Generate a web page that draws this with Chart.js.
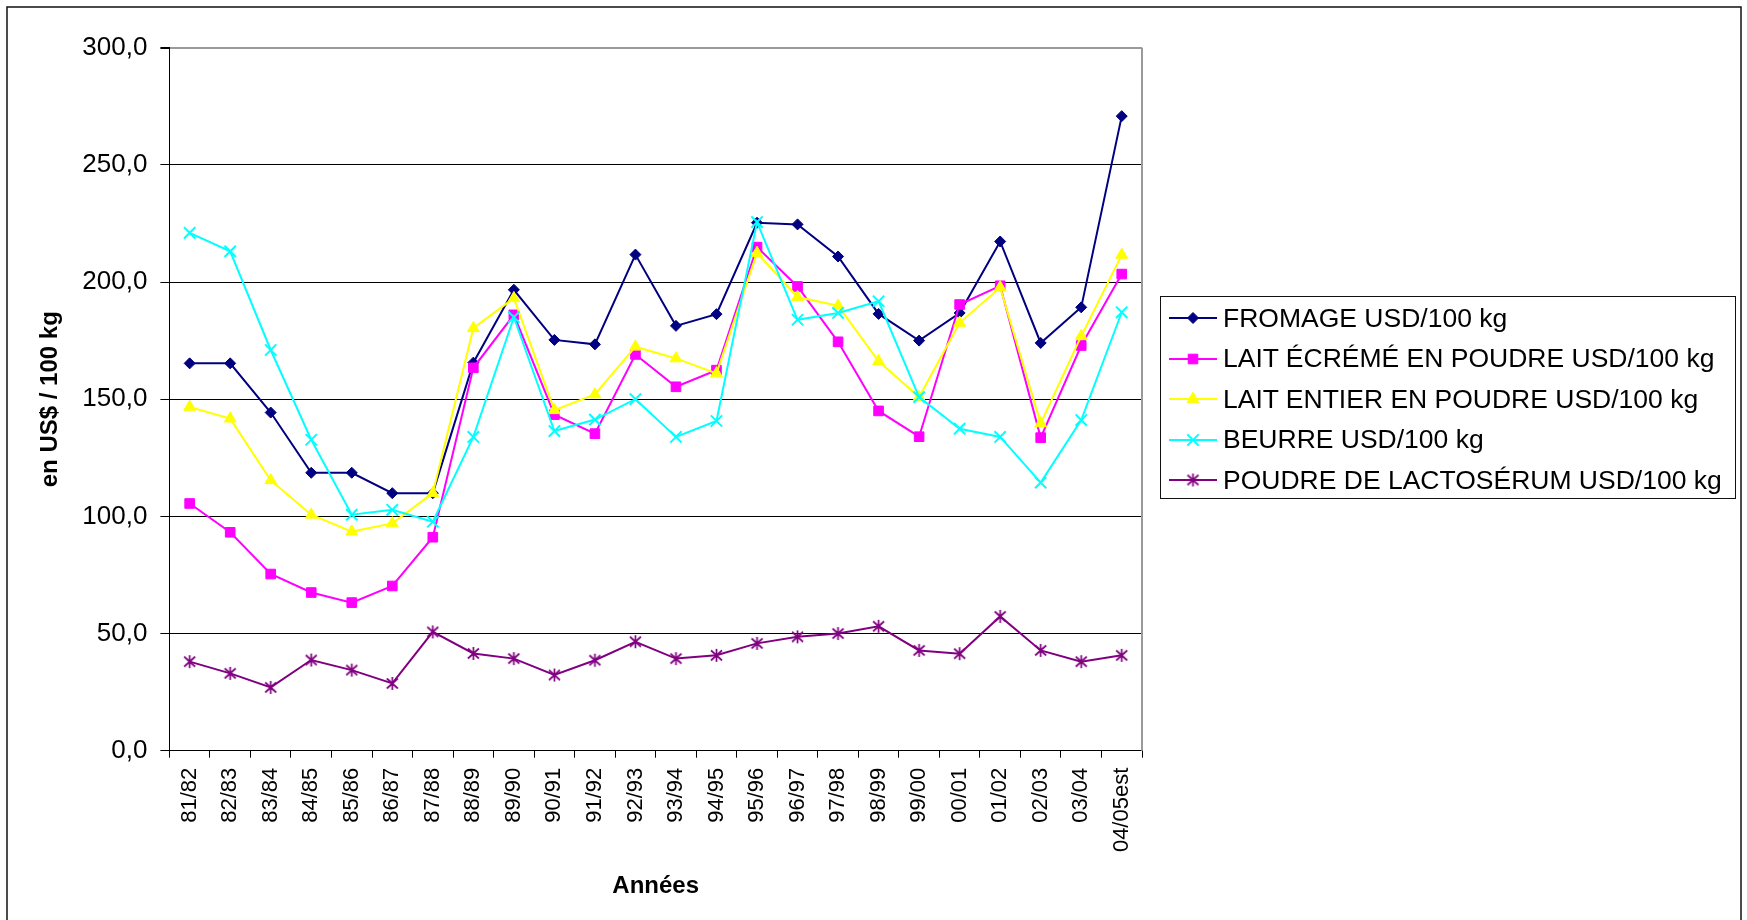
<!DOCTYPE html>
<html lang="fr">
<head>
<meta charset="utf-8">
<title>Prix des produits laitiers</title>
<script src="https://cdn.jsdelivr.net/npm/chart.js@4.4.1/dist/chart.umd.min.js"></script>
<style>
  html, body { margin:0; padding:0; background:#fff; }
  #wrap { position:relative; width:1747px; height:920px; overflow:hidden; }
  #legende { position:absolute; left:1160px; top:296px; width:576px; height:203px; box-sizing:border-box;
             border:1px solid #111; background:#fff; padding-top:1px;
             font-family:"Liberation Sans", Arial, Helvetica, sans-serif; font-size:26.5px; color:#000; }
  #legende .row { display:flex; align-items:center; height:40.5px; white-space:nowrap; }
  #legende canvas { margin-left:8px; margin-right:6px; flex:none; }
</style>
</head>
<body>
<div id="wrap">
  <canvas id="chartPrix" width="1747" height="920"></canvas>
  <div id="legende"></div>
</div>
<script>
// --- donnees ---
var annees = ['81/82','82/83','83/84','84/85','85/86','86/87','87/88','88/89','89/90','90/91','91/92','92/93',
              '93/94','94/95','95/96','96/97','97/98','98/99','99/00','00/01','01/02','02/03','03/04','04/05est'];

var fromage    = [165.3,165.3,144.3,118.6,118.6,109.9,109.9,165.6,196.7,175.3,173.4,211.7,
                  181.3,186.3,225.3,224.6,210.9,186.4,175.0,186.8,217.3,174.0,189.2,270.8];
var laitEcreme = [105.5, 93.2, 75.4, 67.5, 63.2, 70.3, 91.1,163.4,186.0,143.4,135.3,169.1,
                  155.3,162.4,214.9,198.1,174.5,145.0,134.0,190.4,198.4,133.6,172.9,203.4];
var laitEntier = [146.7,141.7,115.4,100.7, 93.5, 97.0,109.9,180.3,193.1,145.3,152.0,172.4,
                  167.4,161.0,212.4,193.6,189.9,166.2,150.9,182.6,197.7,139.7,176.9,211.6];
var beurre     = [221.0,213.1,171.0,132.7,100.7,102.8, 97.7,133.9,185.0,136.4,141.3,150.0,
                  133.9,140.7,225.6,183.9,186.8,191.8,150.9,137.4,133.9,114.4,141.1,187.1];
var lactoserum = [ 38.0, 33.0, 27.0, 38.7, 34.4, 28.7, 50.7, 41.5, 39.3, 32.3, 38.6, 46.5,
                   39.3, 40.7, 45.8, 48.6, 50.0, 53.1, 42.8, 41.4, 57.3, 42.8, 38.0, 40.7];

var series = ['FROMAGE USD/100 kg','LAIT ÉCRÉMÉ EN POUDRE USD/100 kg','LAIT ENTIER EN POUDRE USD/100 kg',
              'BEURRE USD/100 kg','POUDRE DE LACTOSÉRUM USD/100 kg'];
var yMin = 0, yMax = 300, yStep = 50;

// --- mise en page ---
var FONT = '"Liberation Sans", Arial, Helvetica, sans-serif';
var W = 1747, H = 920;
var PLOT_LEFT = 169.4, PLOT_TOP = 47.7, PLOT_RIGHT = 1142, PLOT_BOTTOM = 750.7;
var PAD = 10;

function makeStar(color){
  var c = document.createElement('canvas'); c.width = 15; c.height = 15;
  var g = c.getContext('2d');
  g.strokeStyle = color; g.lineWidth = 1.7;
  g.beginPath();
  g.moveTo(2,2.5); g.lineTo(13,12.5);
  g.moveTo(13,2.5); g.lineTo(2,12.5);
  g.moveTo(7.5,1); g.lineTo(7.5,14);
  g.stroke();
  return c;
}

function serie(i, data, color, style, radius, bw){
  return {
    label: series[i], data: data,
    borderColor: color, backgroundColor: color, borderWidth: 2,
    pointStyle: style, pointRadius: radius, pointHoverRadius: radius,
    pointBackgroundColor: color, pointBorderColor: color, pointBorderWidth: bw || 1,
    tension: 0, fill: false, order: 4 - i
  };
}

var datasets = [
  serie(0, fromage,    '#000080', 'rectRot', 5.5),
  serie(1, laitEcreme, '#FF00FF', 'rect', 6.8),
  serie(2, laitEntier, '#FFFF00', 'triangle', 6.8),
  serie(3, beurre,     '#00FFFF', 'crossRot', 8, 2),
  serie(4, lactoserum, '#800080', makeStar('#800080'), 7)
];

// echantillon de legende : trait + marqueur
function legendSample(ds){
  var c = document.createElement('canvas'); c.width = 48; c.height = 22;
  var g = c.getContext('2d');
  g.strokeStyle = ds.borderColor; g.lineWidth = 2;
  g.beginPath(); g.moveTo(0, 11); g.lineTo(48, 11); g.stroke();
  if (ds.pointStyle instanceof HTMLCanvasElement) {
    g.drawImage(ds.pointStyle, 24 - ds.pointStyle.width/2, 11 - ds.pointStyle.height/2);
  } else {
    g.fillStyle = ds.pointBackgroundColor; g.strokeStyle = ds.pointBorderColor; g.lineWidth = ds.pointBorderWidth;
    Chart.helpers.drawPoint(g, {pointStyle: ds.pointStyle, radius: ds.pointRadius, borderWidth: ds.pointBorderWidth, rotation: 0}, 24, 11);
  }
  return c;
}

function buildLegend(chart){
  var box = document.getElementById('legende');
  box.innerHTML = '';
  chart.data.datasets.forEach(function(ds){
    var row = document.createElement('div'); row.className = 'row';
    row.appendChild(legendSample(ds));
    var sp = document.createElement('span'); sp.textContent = ds.label;
    row.appendChild(sp);
    box.appendChild(row);
  });
}

function fmt(v){ return v.toFixed(1).replace('.', ','); }

var decor = {
  id: 'decor',
  beforeDraw: function(chart){
    var ctx = chart.ctx;
    ctx.save();
    ctx.fillStyle = '#fff'; ctx.fillRect(0, 0, chart.width, chart.height);
    ctx.strokeStyle = '#111'; ctx.lineWidth = 1.5;
    ctx.strokeRect(7, 7, 1734, 940);
    ctx.restore();
  },
  beforeDatasetsDraw: function(chart){
    var a = chart.chartArea, ctx = chart.ctx;
    ctx.save();
    ctx.strokeStyle = '#9a9a9a'; ctx.lineWidth = 2;
    ctx.beginPath(); ctx.moveTo(a.right, a.top); ctx.lineTo(a.right, a.bottom); ctx.stroke();
    ctx.restore();
  }
};

var chart = new Chart(document.getElementById('chartPrix'), {
  type: 'line',
  data: { labels: annees, datasets: datasets },
  plugins: [decor],
  options: {
    responsive: false, animation: false, devicePixelRatio: 1,
    layout: { padding: { left: PAD, top: PLOT_TOP, right: W - PLOT_RIGHT, bottom: PAD } },
    plugins: { tooltip: { enabled: false }, legend: { display: false } },
    scales: {
      x: {
        offset: true,
        grid: { offset: true, drawOnChartArea: false, drawTicks: true, tickLength: 7, color: '#000', tickColor: '#000' },
        border: { display: true, color: '#000', width: 1 },
        ticks: { autoSkip: false, minRotation: 90, maxRotation: 90, padding: 10, color: '#000',
                 font: { family: FONT, size: 22 } },
        title: { display: true, text: 'Années', color: '#000', font: { family: FONT, size: 24, weight: 'bold' },
                 padding: { top: 0, bottom: 9 } },
        afterFit: function(s){ s.height = H - PAD - PLOT_BOTTOM; }
      },
      y: {
        min: yMin, max: yMax,
        grid: {
          color: function(c){ return c.tick && c.tick.value === yMax ? '#9a9a9a' : '#000'; },
          lineWidth: function(c){ return c.tick && c.tick.value === yMax ? 2 : 1; },
          tickLength: 9, tickColor: '#000', drawTicks: true
        },
        border: { display: true, color: '#000', width: 1 },
        ticks: { stepSize: yStep, padding: 13, color: '#000', font: { family: FONT, size: 26 },
                 callback: function(v){ return fmt(v); } },
        title: { display: true, text: 'en US$ / 100 kg', color: '#000', font: { family: FONT, size: 24, weight: 'bold' },
                 padding: { top: 25.6, bottom: 0 } },
        afterFit: function(s){ s.width = PLOT_LEFT - PAD; }
      }
    }
  }
});
buildLegend(chart);
</script>
</body>
</html>
